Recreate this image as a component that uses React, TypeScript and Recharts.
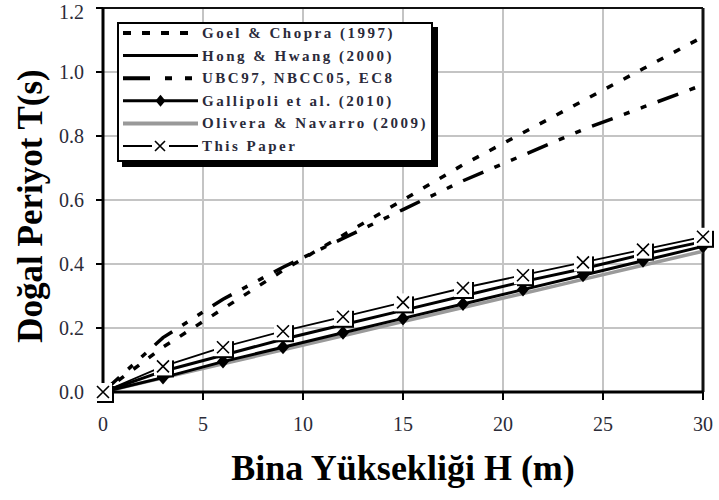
import React from 'react';
import { CartesianGrid, Line, LineChart, ReferenceLine, XAxis, YAxis } from 'recharts';

// Bina yüksekliği (m) — işaretler 3 m aralıkla
const HEIGHTS = [0, 3, 6, 9, 12, 15, 18, 21, 24, 27, 30];

// Doğal periyot T (s)
const GOEL_CHOPRA = [0, 0.14, 0.26, 0.38, 0.49, 0.6, 0.71, 0.81, 0.91, 1.01, 1.11];
const HONG_HWANG = [0, 0.065, 0.115, 0.165, 0.21, 0.255, 0.3, 0.345, 0.385, 0.43, 0.47];
const UBC_NBCC_EC8 = [0, 0.17, 0.29, 0.39, 0.48, 0.57, 0.66, 0.74, 0.82, 0.89, 0.96];
const GALLIPOLI = [0, 0.045, 0.095, 0.14, 0.185, 0.23, 0.275, 0.32, 0.365, 0.41, 0.455];
const OLIVERA_NAVARRO = [0, 0.044, 0.088, 0.132, 0.176, 0.22, 0.264, 0.308, 0.352, 0.396, 0.44];
const THIS_PAPER = [0, 0.08, 0.14, 0.19, 0.235, 0.28, 0.325, 0.365, 0.405, 0.445, 0.485];

const X_TICKS = [0, 5, 10, 15, 20, 25, 30];
const Y_TICKS = [0, 0.2, 0.4, 0.6, 0.8, 1.0, 1.2];

const LEGEND_LABELS = [
  'Goel & Chopra (1997)',
  'Hong & Hwang (2000)',
  'UBC97, NBCC05, EC8',
  'Gallipoli et al. (2010)',
  'Olivera & Navarro (2009)',
  'This Paper',
];

const data = HEIGHTS.map((h, i) => ({
  h,
  goel: GOEL_CHOPRA[i],
  hong: HONG_HWANG[i],
  ubc: UBC_NBCC_EC8[i],
  gallipoli: GALLIPOLI[i],
  olivera: OLIVERA_NAVARRO[i],
  paper: THIS_PAPER[i],
}));

const SERIF = '"Liberation Serif", "Times New Roman", serif';
const TICK_COLOR = '#2b2b38';

function DiamondDot(props: any) {
  const { cx, cy, index } = props;
  if (cx == null || cy == null) return <g key={`d-${index}`} />;
  return (
    <path
      key={`d-${index}`}
      d={`M${cx},${cy - 7} L${cx + 6},${cy} L${cx},${cy + 7} L${cx - 6},${cy} Z`}
      fill="#000"
    />
  );
}

function BoxXDot(props: any) {
  const { cx, cy, index } = props;
  if (cx == null || cy == null) return <g key={`x-${index}`} />;
  return (
    <g key={`x-${index}`}>
      <rect x={cx - 6} y={cy - 6} width={17} height={17} fill="#000" />
      <rect x={cx - 9} y={cy - 9} width={18} height={18} fill="#fff" />
      <path
        d={`M${cx - 6},${cy - 6} L${cx + 6},${cy + 6} M${cx + 6},${cy - 6} L${cx - 6},${cy + 6}`}
        stroke="#000"
        strokeWidth={1.6}
      />
    </g>
  );
}

function LegendBox() {
  const rowY = (i: number) => 11 + i * 22.6;
  const x0 = 6;
  const x1 = 81;
  return (
    <svg width={324} height={148} style={{ display: 'block' }}>
      <rect x={5} y={5} width={316} height={140} fill="#000" />
      <rect x={1} y={1} width={314} height={138} fill="#fff" stroke="#000" strokeWidth={2} />
      {/* Goel & Chopra */}
      <line x1={x0} x2={x1} y1={rowY(0)} y2={rowY(0)} stroke="#000" strokeWidth={4} strokeDasharray="8 11" />
      {/* Hong & Hwang */}
      <line x1={x0} x2={x1} y1={rowY(1)} y2={rowY(1)} stroke="#000" strokeWidth={3} />
      {/* UBC97 */}
      <line x1={x0} x2={x1} y1={rowY(2)} y2={rowY(2)} stroke="#000" strokeWidth={4} strokeDasharray="27 15 7 13 7 13" />
      {/* Gallipoli */}
      <line x1={x0} x2={x1} y1={rowY(3)} y2={rowY(3)} stroke="#000" strokeWidth={3} />
      <path d={`M${(x0 + x1) / 2},${rowY(3) - 6} l5,6 l-5,6 l-5,-6 Z`} fill="#000" />
      {/* Olivera & Navarro */}
      <line x1={x0} x2={x1} y1={rowY(4)} y2={rowY(4)} stroke="#999" strokeWidth={4} />
      {/* This Paper */}
      <line x1={x0} x2={35} y1={rowY(5)} y2={rowY(5)} stroke="#000" strokeWidth={2} />
      <line x1={52} x2={x1} y1={rowY(5)} y2={rowY(5)} stroke="#000" strokeWidth={2} />
      <path
        d={`M${38},${rowY(5) - 5} l10,10 M${48},${rowY(5) - 5} l-10,10`}
        stroke="#000"
        strokeWidth={1.6}
      />
      {LEGEND_LABELS.map((label, i) => (
        <text
          key={label}
          x={85}
          y={rowY(i) + 5}
          fontFamily={SERIF}
          fontWeight="bold"
          fontSize={15}
          letterSpacing={2.5}
          fill="#2a2a3a"
        >
          {label}
        </text>
      ))}
    </svg>
  );
}

export default function App() {
  return (
    <div style={{ position: 'absolute', left: 0, top: 0, width: 719, height: 500, background: '#fff' }}>
      <LineChart width={719} height={500} data={data} margin={{ top: 8, right: 16, bottom: 8, left: 0 }}>
        <CartesianGrid stroke="#c4c4c4" strokeWidth={2} />
        <XAxis
          dataKey="h"
          type="number"
          domain={[0, 30]}
          ticks={X_TICKS}
          height={100}
          tickSize={8}
          tickMargin={10}
          axisLine={{ stroke: '#000', strokeWidth: 3 }}
          tickLine={{ stroke: '#000', strokeWidth: 2 }}
          tick={{ fill: TICK_COLOR, fontSize: 20, fontFamily: SERIF, dy: 7 }}
          label={{
            content: () => (
              <text
                x={403}
                y={480}
                textAnchor="middle"
                fontFamily={SERIF}
                fontWeight="bold"
                fontSize={36}
                fill="#000"
              >
                Bina Yüksekliği  H (m)
              </text>
            ),
          }}
        />
        <YAxis
          type="number"
          domain={[0, 1.2]}
          ticks={Y_TICKS}
          width={103}
          tickSize={7}
          tickMargin={12}
          tickFormatter={(v: number) => v.toFixed(1)}
          axisLine={{ stroke: '#000', strokeWidth: 3 }}
          tickLine={{ stroke: '#000', strokeWidth: 2 }}
          tick={{ fill: TICK_COLOR, fontSize: 20, fontFamily: SERIF }}
          label={{
            content: () => (
              <text
                x={30}
                y={206}
                transform="rotate(-90, 30, 206)"
                textAnchor="middle"
                dominantBaseline="central"
                fontFamily={SERIF}
                fontWeight="bold"
                fontSize={35}
                fill="#000"
              >
                Doğal Periyot  T(s)
              </text>
            ),
          }}
        />
        <ReferenceLine y={1.2} stroke="#111" strokeWidth={2} />
        <ReferenceLine x={30} stroke="#111" strokeWidth={3} />
        <Line dataKey="olivera" stroke="#9a9a9a" strokeWidth={3.5} dot={false} isAnimationActive={false} />
        <Line dataKey="gallipoli" stroke="#000" strokeWidth={3} dot={DiamondDot} isAnimationActive={false} />
        <Line dataKey="hong" stroke="#000" strokeWidth={3} dot={false} isAnimationActive={false} />
        <Line dataKey="paper" stroke="#000" strokeWidth={1.8} dot={BoxXDot} isAnimationActive={false} />
        <Line
          dataKey="ubc"
          stroke="#000"
          strokeWidth={3.5}
          strokeDasharray="22 12 6 12 6 12"
          dot={false}
          isAnimationActive={false}
        />
        <Line
          dataKey="goel"
          stroke="#000"
          strokeWidth={3.5}
          strokeDasharray="7 12"
          dot={false}
          isAnimationActive={false}
        />
      </LineChart>
      <div style={{ position: 'absolute', left: 117, top: 22 }}>
        <LegendBox />
      </div>
    </div>
  );
}
